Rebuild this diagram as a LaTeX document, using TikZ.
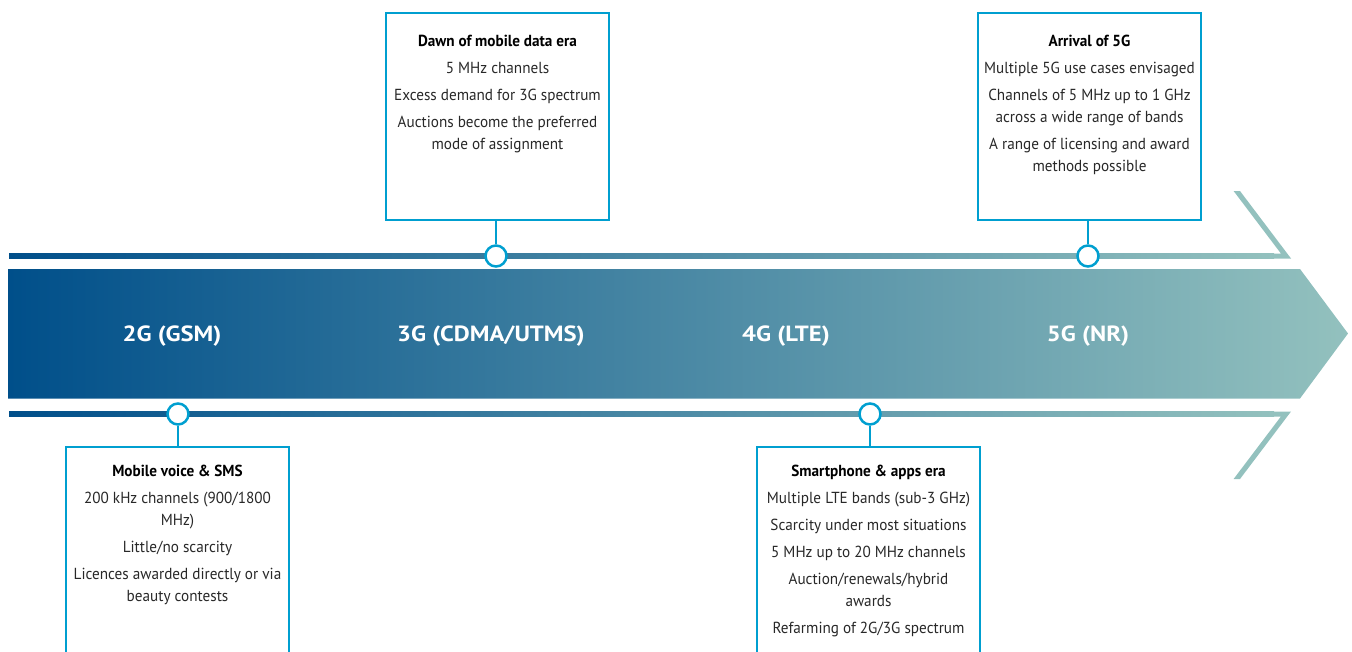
\documentclass[tikz,border=0pt]{standalone}
\usepackage{fontspec}
\setmainfont{PT Sans}[FakeStretch=0.95]
\newfontfamily\bandfont{PT Sans}[FakeStretch=1.12]
\usepackage{tikz}
\usetikzlibrary{positioning}

\definecolor{bandleft}{RGB}{0,79,138}
\definecolor{bandright}{RGB}{147,193,190}
\definecolor{boxcyan}{RGB}{0,159,208}
\definecolor{bodygrey}{RGB}{40,40,40}

\tikzset{
  infobox/.style={draw=boxcyan, line width=2.5pt, fill=white, minimum width=223pt, inner sep=0pt},
  milestone/.style={circle, draw=boxcyan, line width=2.5pt, fill=white, minimum size=21pt, inner sep=0pt},
  stem/.style={boxcyan, line width=2.5pt},
  infotext/.style={align=center, inner sep=0pt, text=bodygrey, font=\fontsize{16}{22}\selectfont},
  eralabel/.style={text=white, inner sep=0pt, font=\bandfont\fontsize{22}{26}\selectfont\bfseries},
}

\begin{document}
\begin{tikzpicture}[x=1pt, y=-1pt]
    \useasboundingbox (0,0) rectangle (1352,651);

    % the big arrow with the generations
    \shade[left color=bandleft, right color=bandright]
        (8,269) -- (1300,269) -- (1348,333.5) -- (1300,398.5) -- (8,398.5) -- cycle;

    % thin rails above and below, with their chevron ends
    \shade[left color=bandleft, right color=bandright] (9,253.5) rectangle (1274,258.5);
    \fill[bandright] (1233.6,191) -- (1240,191) -- (1291,258.5) -- (1270,258.5)
        -- (1270,253.5) -- (1280.9,253.5) -- cycle;
    \shade[left color=bandleft, right color=bandright] (9,411.5) rectangle (1274,416.5);
    \fill[bandright] (1233.6,479) -- (1240,479) -- (1291,411.5) -- (1270,411.5)
        -- (1270,416.5) -- (1280.9,416.5) -- cycle;

    \node[eralabel] (gsm) at (172,336) {2G (GSM)};
    \node[eralabel] (cdma) at (491,336) {3G (CDMA/UTMS)};
    \node[eralabel] (lte) at (786,336) {4G (LTE)};
    \node[eralabel] (nr) at (1088,336) {5G (NR)};

    % milestones on the rails
    \node[milestone] (dotvoice) at (178,414) {};
    \node[milestone] (dotdata) at (496,256) {};
    \node[milestone] (dotapps) at (870,414) {};
    \node[milestone] (dotfive) at (1088,256) {};

    % boxes (the lower ones run off the page)
    \node[infobox, minimum height=207pt] (boxdata) at (497.5,116.5) {};
    \node[infobox, minimum height=207pt] (boxfive) at (1089.5,116.5) {};
    \node[infobox, minimum height=240pt] (boxvoice) at (177.5,567) {};
    \node[infobox, minimum height=240pt] (boxapps) at (868.5,567) {};

    \draw[stem] (boxdata.south -| dotdata) -- (dotdata.north);
    \draw[stem] (boxfive.south -| dotfive) -- (dotfive.north);
    \draw[stem] (dotvoice.south) -- (dotvoice |- boxvoice.north);
    \draw[stem] (dotapps.south) -- (dotapps |- boxapps.north);

    \node[infotext, below=23pt of boxdata.north] (txtdata) {%
        \textbf{\color{black}Dawn of mobile data era}\\[5pt]
        5 MHz channels\\[5pt]
        Excess demand for 3G spectrum\\[5pt]
        Auctions become the preferred\\
        mode of assignment};
    \node[infotext, below=23pt of boxfive.north] (txtfive) {%
        \textbf{\color{black}Arrival of 5G}\\[5pt]
        Multiple 5G use cases envisaged\\[5pt]
        Channels of 5 MHz up to 1 GHz\\
        across a wide range of bands\\[5pt]
        A range of licensing and award\\
        methods possible};
    \node[infotext, below=19pt of boxvoice.north] (txtvoice) {%
        \textbf{\color{black}Mobile voice \& SMS}\\[5pt]
        200 kHz channels (900/1800\\
        MHz)\\[5pt]
        Little/no scarcity\\[5pt]
        Licences awarded directly or via\\
        beauty contests};
    \node[infotext, below=19pt of boxapps.north] (txtapps) {%
        \textbf{\color{black}Smartphone \& apps era}\\[5pt]
        Multiple LTE bands (sub-3 GHz)\\[5pt]
        Scarcity under most situations\\[5pt]
        5 MHz up to 20 MHz channels\\[5pt]
        Auction/renewals/hybrid\\
        awards\\[5pt]
        Refarming of 2G/3G spectrum};
\end{tikzpicture}
\end{document}
